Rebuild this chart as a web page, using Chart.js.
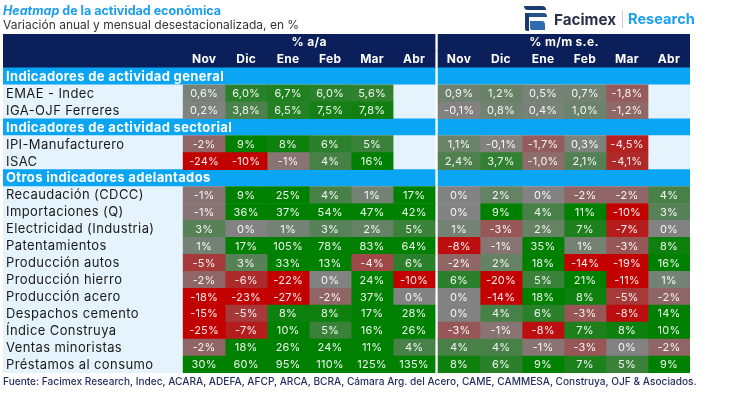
<!DOCTYPE html>
<html>
<head>
<meta charset="utf-8">
<script src="https://cdn.jsdelivr.net/npm/chart.js@4.4.0/dist/chart.umd.min.js"></script>
<style>
  body { margin: 0; background: #fff; font-family: Inter, "Noto Sans", sans-serif; }
  #wrap { position: relative; width: 730px; height: 395px; overflow: hidden; }
  #wrap canvas { position: absolute; left: 0; top: 0; }
  .titulo { position: absolute; left: 3px; top: 3px; font-size: 12.5px; font-weight: 700; color: #1c9cef; }
  .subtitulo { position: absolute; left: 3px; top: 17px; font-size: 12px; color: #333; }
  .fuente { position: absolute; left: 3px; top: 375px; font-size: 10.15px; font-weight: 500; color: #1f2b5c; white-space: nowrap; }
  .logo { position: absolute; left: 522px; top: 3px; height: 30px; }
  .facimex { position: absolute; left: 554px; top: 10px; font-size: 15.2px; font-weight: 700; color: #2b3048; }
  .sep { position: absolute; left: 622px; top: 10px; width: 1px; height: 18px; background: #ccc; }
  .research { position: absolute; left: 628px; top: 10px; font-size: 14.6px; font-weight: 700; color: #1ca0f2; }
</style>
</head>
<body>
<div id="wrap">
  <canvas id="heatmap" width="730" height="395"></canvas>
  <div class="titulo"><i>Heatmap</i> de la actividad económica</div>
  <div class="subtitulo">Variación anual y mensual desestacionalizada, en %</div>
  <svg class="logo" width="26" height="30" viewBox="0 0 26 30">
    <path d="M2 3 H20 Q24 3 24 7 H6 Q2 7 2 3 Z" fill="#1d3a6e"/>
    <path d="M3 10 H22 Q25 10 25 14 H7 Q3 14 3 10 Z" fill="#23518a"/>
    <path d="M3 10 V26 Q3 28 5 28 H7 V10 Z" fill="#1d3a6e"/>
    <path d="M8 18 H20 Q23 18 23 22 V27 H10 Q8 27 8 25 Z" fill="#2f6bb0"/>
  </svg>
  <div class="facimex">Facimex</div>
  <div class="sep"></div>
  <div class="research">Research</div>
  <div class="fuente">Fuente: Facimex Research, Indec, ACARA, ADEFA, AFCP, ARCA, BCRA, Cámara Arg. del Acero, CAME, CAMMESA, Construya, OJF &amp; Asociados.</div>
</div>
<script>
const meses = ['Nov', 'Dic', 'Ene', 'Feb', 'Mar', 'Abr'];
const paneles = ['% a/a', '% m/m s.e.'];
const secciones = ['Indicadores de actividad general', 'Indicadores de actividad sectorial', 'Otros indicadores adelantados'];
const indicadores = ['EMAE - Indec', 'IGA-OJF Ferreres', 'IPI-Manufacturero', 'ISAC',
  'Recaudación (CDCC)', 'Importaciones (Q)', 'Electricidad (Industria)', 'Patentamientos',
  'Producción autos', 'Producción hierro', 'Producción acero', 'Despachos cemento',
  'Índice Construya', 'Ventas minoristas', 'Préstamos al consumo'];
const seccionDe = [0, 0, 1, 1, 2, 2, 2, 2, 2, 2, 2, 2, 2, 2, 2];
const anual = [
  [0.6, 6.0, 6.7, 6.0, 5.6, null],
  [0.2, 3.8, 6.5, 7.5, 7.8, null],
  [-2, 9, 8, 6, 5, null],
  [-24, -10, -1, 4, 16, null],
  [-1, 9, 25, 4, 1, 17],
  [-1, 36, 37, 54, 47, 42],
  [3, 0, 1, 3, 2, 5],
  [1, 17, 105, 78, 83, 64],
  [-5, 3, 33, 13, -4, 6],
  [-2, -6, -22, 0, 24, -10],
  [-18, -23, -27, -2, 37, 0],
  [-15, -5, 8, 8, 17, 28],
  [-25, -7, 10, 5, 16, 26],
  [-2, 18, 26, 24, 11, 4],
  [30, 60, 95, 110, 125, 135]
];
const mensual = [
  [0.9, 1.2, 0.5, 0.7, -1.8, null],
  [-0.1, 0.8, 0.4, 1.0, -1.2, null],
  [1.1, -0.1, -1.7, 0.3, -4.5, null],
  [2.4, 3.7, -1.0, 2.1, -4.1, null],
  [0, 2, 0, -2, -2, 4],
  [0, 9, 4, 11, -10, 3],
  [1, -3, 2, 7, -7, 0],
  [-8, -1, 35, 1, -3, 8],
  [-2, 2, 18, -14, -19, 16],
  [6, -20, 5, 21, -11, 1],
  [0, -14, 18, 8, -5, -2],
  [0, 4, 6, -3, -8, 14],
  [-3, -1, -8, 7, 8, 10],
  [4, 4, -1, -3, 0, -2],
  [8, 6, 9, 7, 5, 9]
];
// decimales con que se muestra cada fila
const decAnual = [1, 1, 0, 0, 0, 0, 0, 0, 0, 0, 0, 0, 0, 0, 0];
const decMensual = [1, 1, 1, 1, 0, 0, 0, 0, 0, 0, 0, 0, 0, 0, 0];

const X_MIN = -4.29, GAP = 0.071, X_MAX = 12 + GAP;

// armo las filas: 2 de encabezado, secciones y datos
let filas = [{tipo: 'hdr', id: 'h0'}, {tipo: 'hdr', id: 'h1'}];
let secActual = -1;
indicadores.forEach((nombre, i) => {
  if (seccionDe[i] !== secActual) {
    secActual = seccionDe[i];
    filas.push({tipo: 'sec', id: 's' + secActual, texto: secciones[secActual]});
  }
  filas.push({tipo: 'dato', id: 'd' + i, texto: nombre, idx: i});
});

function colorCelda(v, escala) {
  let t = Math.max(-1, Math.min(1, v / escala));
  const g = 130;
  if (t >= 0) {
    const c = Math.round(g * (1 - t));
    return `rgb(${c},${Math.round(g - 2 * t)},${c})`;
  }
  t = -t;
  return `rgb(${Math.round(g + (195 - g) * t)},${Math.round(g * (1 - t))},${Math.round(g * (1 - t))})`;
}

function fondo(f) {
  if (f.tipo === 'hdr') return '#0b1f5b';
  if (f.tipo === 'sec') return '#0aa6f4';
  return '#e4f3fc';
}

let datasets = [];
// fondos de cada panel
datasets.push({
  data: filas.map(() => [X_MIN, 6]),
  backgroundColor: filas.map(fondo), order: 5
});
datasets.push({
  data: filas.map(() => [6 + GAP, X_MAX]),
  backgroundColor: filas.map(fondo), order: 5
});
// celdas
[anual, mensual].forEach((tabla, p) => {
  for (let j = 0; j < meses.length; j++) {
    const x0 = p === 0 ? j : 6 + GAP + j;
    datasets.push({
      panel: p, col: j,
      data: filas.map(f => (f.tipo === 'dato' && tabla[f.idx][j] !== null) ? [x0, x0 + 1] : null),
      backgroundColor: filas.map(f => {
        if (f.tipo !== 'dato' || tabla[f.idx][j] === null) return 'transparent';
        const esc = (p === 1 && f.idx < 4) ? 6 : 9;
        return colorCelda(tabla[f.idx][j], esc);
      }),
      order: 1
    });
  }
});

const textos = {
  id: 'textos',
  afterDatasetsDraw(chart) {
    const ctx = chart.ctx;
    const xs = chart.scales.x, ys = chart.scales.y;
    ctx.save();
    ctx.textBaseline = 'middle';
    // valores de las celdas
    ctx.textAlign = 'center';
    ctx.font = '11px Inter';
    ctx.letterSpacing = '0.2px';
    ctx.fillStyle = 'rgba(255,255,255,0.93)';
    chart.data.datasets.forEach((ds, k) => {
      if (ds.panel === undefined) return;
      const tabla = ds.panel === 0 ? anual : mensual;
      const dec = ds.panel === 0 ? decAnual : decMensual;
      chart.getDatasetMeta(k).data.forEach((el, r) => {
        const f = filas[r];
        if (f.tipo !== 'dato') return;
        const v = tabla[f.idx][ds.col];
        if (v === null) return;
        const p = el.getProps(['x', 'y', 'base'], true);
        ctx.fillText(v.toFixed(dec[f.idx]).replace('.', ',') + '%', (p.x + p.base) / 2, p.y + 0.5);
      });
    });
    // etiquetas de filas
    ctx.textAlign = 'left';
    filas.forEach((f, r) => {
      const y = ys.getPixelForValue(r) + 0.5;
      if (f.tipo === 'sec') {
        ctx.font = 'bold 13px Inter';
        ctx.letterSpacing = '0.35px';
        ctx.fillStyle = '#fff';
        ctx.fillText(f.texto, xs.getPixelForValue(X_MIN) + 3, y);
      } else if (f.tipo === 'dato') {
        ctx.font = '13px Inter';
        ctx.letterSpacing = '0.4px';
        ctx.fillStyle = '#1a1a1a';
        ctx.fillText(f.texto, xs.getPixelForValue(X_MIN) + 3, y);
      }
    });
    // encabezados
    ctx.textAlign = 'center';
    ctx.fillStyle = '#fff';
    ctx.font = 'bold 12px Inter';
    ctx.letterSpacing = '0.3px';
    const yh0 = ys.getPixelForValue(0), yh1 = ys.getPixelForValue(1);
    ctx.fillText(paneles[0], xs.getPixelForValue(3), yh0);
    ctx.fillText(paneles[1], xs.getPixelForValue(9 + GAP), yh0);
    meses.forEach((m, j) => {
      ctx.fillText(m, xs.getPixelForValue(j + 0.5), yh1);
      ctx.fillText(m, xs.getPixelForValue(6 + GAP + j + 0.5), yh1);
    });
    ctx.restore();
  }
};

new Chart(document.getElementById('heatmap'), {
  type: 'bar',
  data: { labels: filas.map(f => f.id), datasets: datasets },
  options: {
    indexAxis: 'y',
    responsive: false,
    animation: false,
    layout: { padding: { top: 34, bottom: 22, left: 3, right: 40 } },
    datasets: { bar: { grouped: false, barPercentage: 1, categoryPercentage: 1, borderWidth: 0 } },
    scales: {
      x: { type: 'linear', min: X_MIN, max: X_MAX, display: false },
      y: { display: false }
    },
    plugins: { legend: { display: false }, tooltip: { enabled: false } }
  },
  plugins: [textos]
});
</script>
</body>
</html>
